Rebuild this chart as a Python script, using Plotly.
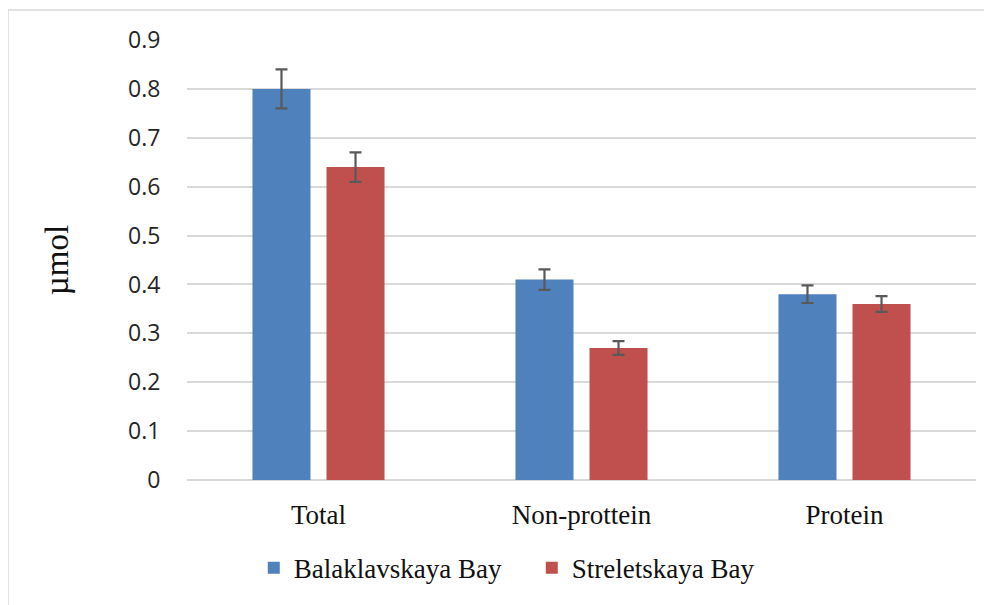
import plotly.graph_objects as go

categories = ["Total", "Non-prottein", "Protein"]
balaklavskaya = [0.80, 0.41, 0.38]
balaklavskaya_err = [0.04, 0.021, 0.018]
streletskaya = [0.64, 0.27, 0.36]
streletskaya_err = [0.03, 0.014, 0.016]
y_ticks = [0, 0.1, 0.2, 0.3, 0.4, 0.5, 0.6, 0.7, 0.8, 0.9]

err_style = dict(type="data", color="#595959", thickness=2.2, width=6)

fig = go.Figure()
fig.add_trace(go.Bar(
    name="Balaklavskaya Bay", x=categories, y=balaklavskaya,
    marker=dict(color="#4F81BD", line=dict(width=0)),
    error_y=dict(array=balaklavskaya_err, **err_style),
))
fig.add_trace(go.Bar(
    name="Streletskaya Bay", x=categories, y=streletskaya,
    marker=dict(color="#C0504D", line=dict(width=0)),
    error_y=dict(array=streletskaya_err, **err_style),
))

fig.update_layout(
    width=992, height=605,
    margin=dict(l=179, r=24, t=32, b=133),
    paper_bgcolor="white", plot_bgcolor="white",
    barmode="group", bargap=0.437, bargroupgap=0.216,
    showlegend=True,
    legend=dict(
        orientation="h", xref="container", yref="container",
        x=0.528, xanchor="center", y=0.074, yanchor="middle",
        font=dict(family="Liberation Serif", size=27, color="#111111"),
        traceorder="normal",
        entrywidth=233, entrywidthmode="pixels",
    ),
    xaxis=dict(
        showgrid=False, showline=False, zeroline=False,
        ticks="outside", ticklen=11, tickcolor="rgba(0,0,0,0)",
        tickfont=dict(family="Liberation Serif", size=27, color="#111111"),
    ),
    yaxis=dict(
        range=[0, 0.9], tickvals=y_ticks,
        ticktext=[("0" if v == 0 else f"{v:.1f}") for v in y_ticks],
        showgrid=True, gridcolor="#d9d9d9", gridwidth=1.5,
        zeroline=True, zerolinecolor="#d9d9d9", zerolinewidth=1.5,
        showline=False,
        ticks="outside", ticklen=21, tickcolor="rgba(0,0,0,0)",
        tickfont=dict(family="Open Sans", size=23, color="#262626"),
        title=dict(text="µmol", font=dict(family="Liberation Serif", size=33, color="#111111"), standoff=49),
    ),
    shapes=[dict(
        type="rect", xref="paper", yref="paper",
        x0=-0.2269, x1=1.05, y0=-0.35, y1=1.068,
        line=dict(color="#d9d9d9", width=1.5), fillcolor="rgba(0,0,0,0)",
        layer="below",
    )],
)

fig.write_html("out.html")
